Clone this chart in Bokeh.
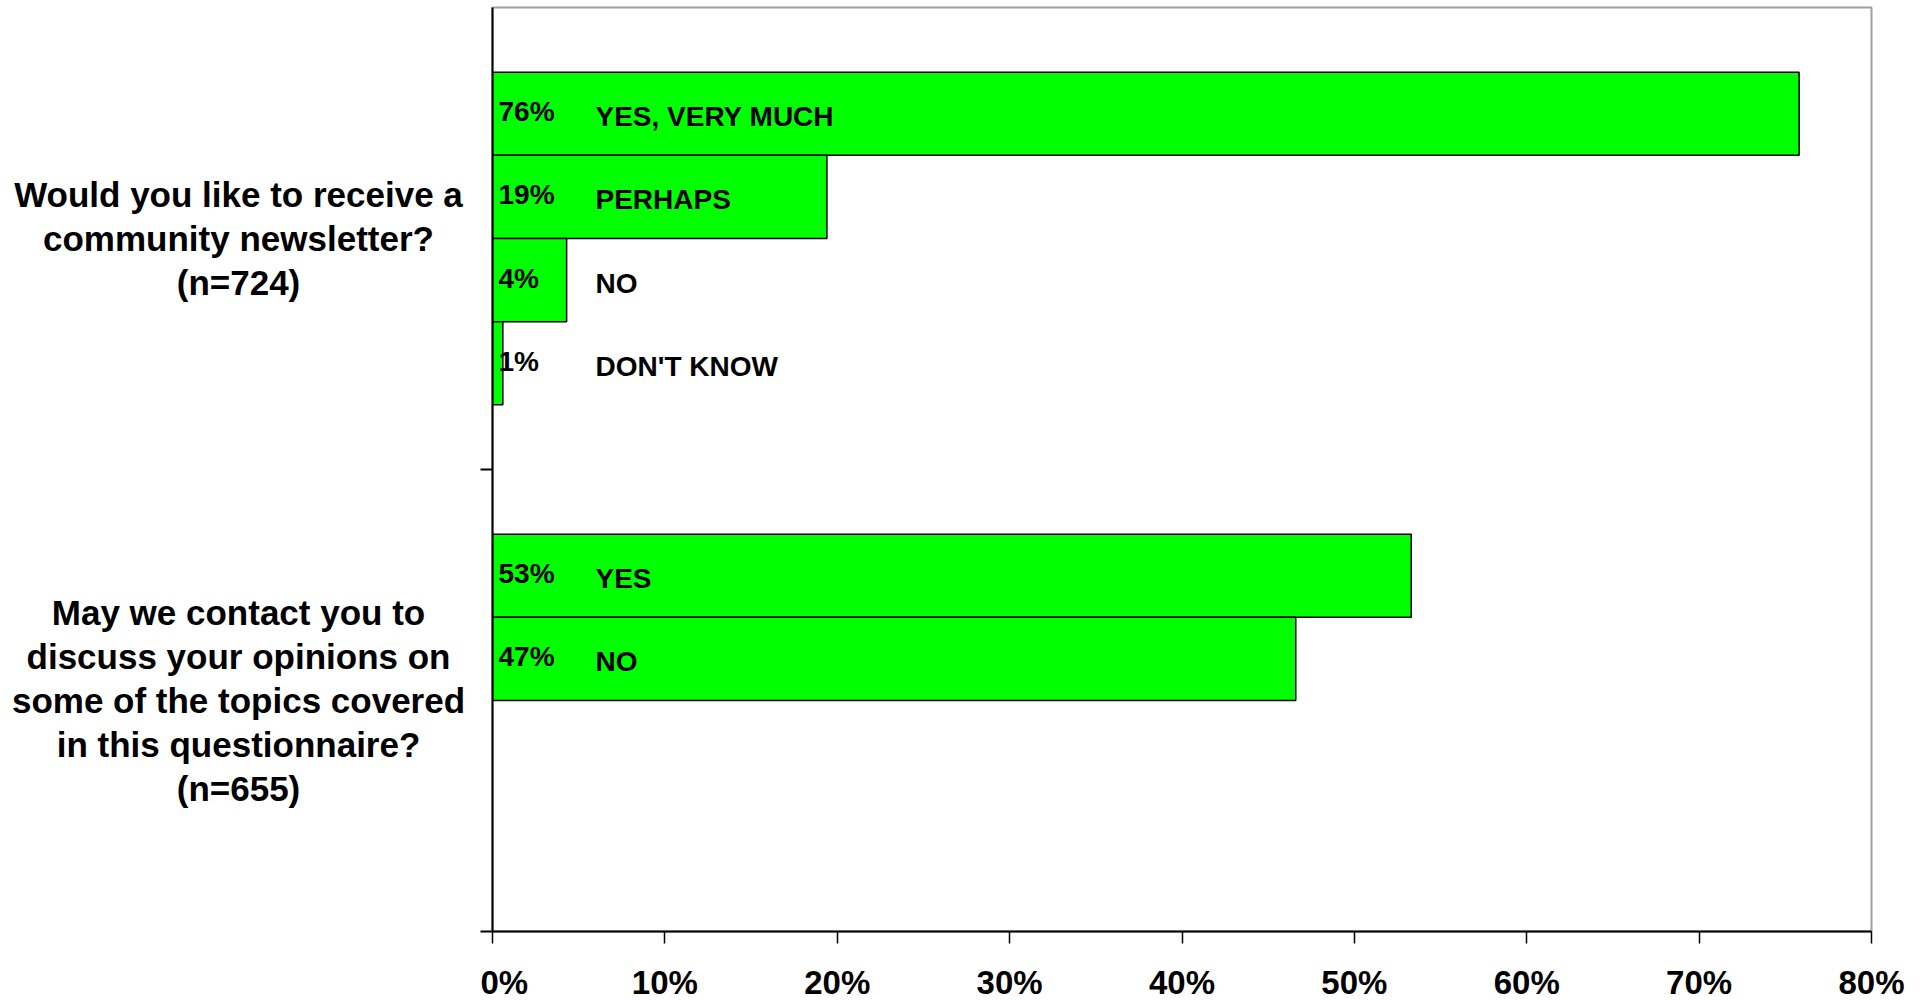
from bokeh.plotting import figure
from bokeh.layouts import row
from bokeh.models import FixedTicker, Range1d, ColumnDataSource
from bokeh.core.properties import value
from bokeh.embed import file_html
from bokeh.resources import INLINE

# ---- data ----
questions = [
    "Would you like to receive a\ncommunity newsletter?\n(n=724)",
    "May we contact you to\ndiscuss your opinions on\nsome of the topics covered\nin this questionnaire?\n(n=655)",
]
q1_answers = ["YES, VERY MUCH", "PERHAPS", "NO", "DON'T KNOW"]
q1_values = [75.8, 19.4, 4.3, 0.6]
q1_labels = ["76%", "19%", "4%", "1%"]
q2_answers = ["YES", "NO"]
q2_values = [53.3, 46.6]
q2_labels = ["53%", "47%"]
x_ticks = [0, 10, 20, 30, 40, 50, 60, 70, 80]
x_tick_labels = ["0%", "10%", "20%", "30%", "40%", "50%", "60%", "70%", "80%"]

FONT = "Liberation Sans"
n_q = len(questions)
n_slots = 4
bar_h = 0.72 / n_slots
gap = (1 - 0.72) / 2

ys, vals, pcts, answers = [], [], [], []
for qi, (ans, v, l) in enumerate([(q1_answers, q1_values, q1_labels),
                                    (q2_answers, q2_values, q2_labels)]):
    cat_top = n_q - qi
    for k in range(len(v)):
        ys.append(cat_top - gap - bar_h * (k + 0.5))
        vals.append(v[k])
        pcts.append(l[k])
        answers.append(ans[k])

src = ColumnDataSource(dict(y=ys, v=vals, pct=pcts, ans=answers,
                            zero=[0] * len(ys)))

TOP, FRAME_H, BOTTOM = 7, 924, 67
LEFT_W = 480

y_range = Range1d(0, n_q)

# ---- left panel with question texts ----
left = figure(frame_width=LEFT_W, frame_height=FRAME_H,
              x_range=Range1d(0, LEFT_W), y_range=y_range,
              x_axis_location=None, y_axis_location=None,
              output_backend="svg", toolbar_location=None,
              min_border_left=0, min_border_right=0,
              min_border_top=TOP, min_border_bottom=BOTTOM)
left.outline_line_color = None
left.xgrid.visible = False
left.ygrid.visible = False
qsrc = ColumnDataSource(dict(x=[238] * n_q,
                             y=[n_q - qi - 0.5 for qi in range(n_q)],
                             t=questions))
left.text(x="x", y="y", text="t", source=qsrc,
          text_font=value(FONT), text_font_style="bold", text_font_size="35px",
          text_align="center", text_baseline="middle", text_line_height=1.13,
          text_color="black")

# ---- main chart ----
frame_w = 1379
p = figure(frame_width=frame_w, frame_height=FRAME_H,
           x_range=Range1d(0, 80), y_range=y_range,
           output_backend="svg", toolbar_location=None,
           min_border_left=12, min_border_right=45,
           min_border_top=TOP, min_border_bottom=BOTTOM)

p.hbar(y="y", left=0, right="v", height=bar_h, source=src,
       fill_color="#00FF00", line_color="black", line_width=1.5)

p.text(x="zero", y="y", text="pct", source=src, x_offset=6, y_offset=-2,
       text_font=value(FONT), text_font_style="bold", text_font_size="28px",
       text_baseline="middle", text_align="left", text_color="black")
p.text(x="zero", y="y", text="ans", source=src, x_offset=103, y_offset=3,
       text_font=value(FONT), text_font_style="bold", text_font_size="28px",
       text_baseline="middle", text_align="left", text_color="black")

p.xgrid.visible = False
p.ygrid.visible = False
p.outline_line_color = "#A0A0A0"
p.outline_line_width = 2

xa = p.xaxis[0]
xa.ticker = FixedTicker(ticks=x_ticks)
xa.major_label_overrides = {t: s for t, s in zip(x_ticks, x_tick_labels)}
xa.major_label_text_font = FONT
xa.major_label_text_font_style = "bold"
xa.major_label_text_font_size = "33px"
xa.major_label_text_color = "black"
xa.major_label_standoff = 20
xa.major_tick_out = 12
xa.major_tick_in = 0
xa.minor_tick_out = 0
xa.minor_tick_in = 0
xa.axis_line_color = "black"
xa.axis_line_width = 2
xa.major_tick_line_color = "black"
xa.major_tick_line_width = 1.5

ya = p.yaxis[0]
ya.ticker = FixedTicker(ticks=[0, 1])
ya.major_label_overrides = {0: "", 1: ""}
ya.major_label_standoff = 0
ya.major_tick_out = 12
ya.major_tick_in = 0
ya.minor_tick_out = 0
ya.minor_tick_in = 0
ya.axis_line_color = "black"
ya.axis_line_width = 2
ya.major_tick_line_color = "black"
ya.major_tick_line_width = 2

layout = row(left, p)
open("out.html", "w").write(file_html(layout, INLINE))
